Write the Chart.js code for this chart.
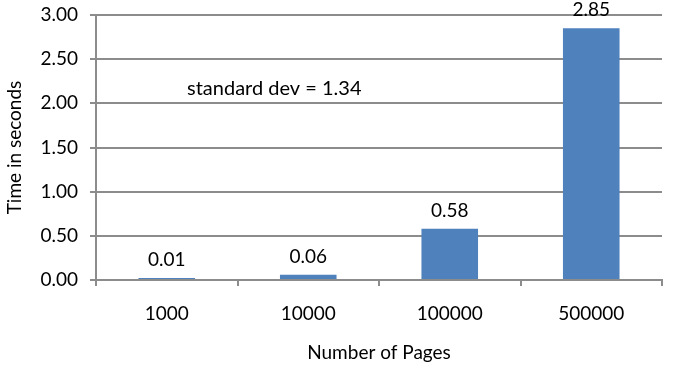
<!DOCTYPE html>
<html><head><meta charset="utf-8">
<script src="https://cdn.jsdelivr.net/npm/chart.js@4/dist/chart.umd.min.js"></script>
<style>html,body{margin:0;padding:0;background:#fff}canvas{display:block}</style>
</head><body><canvas id="c" width="684" height="374"></canvas>
<script>
const categories = ['1000', '10000', '100000', '500000'];
const times = [0.01, 0.06, 0.58, 2.85];
const yTickValues = [0, 0.5, 1, 1.5, 2, 2.5, 3];
const xTitle = 'Number of Pages';
const yTitle = 'Time in seconds';
const annotationText = 'standard dev = 1.34';
const annotationAt = [0.76, 2.17]; // [category index, value]

const FONT = 'Lato, "Liberation Sans", sans-serif';
const FS = 19;
const GRID = '#8c8c8c';

const labelsPlugin = {
  id: 'labels',
  afterDatasetsDraw(chart) {
    const ctx = chart.ctx;
    ctx.save();
    ctx.font = FS + 'px ' + FONT;
    ctx.fillStyle = '#000';
    ctx.textAlign = 'center';
    ctx.textBaseline = 'middle';
    const base = chart.scales.y.getPixelForValue(0);
    chart.getDatasetMeta(0).data.forEach((bar, i) => {
      const top = Math.min(bar.y, base - 2);
      ctx.fillText(times[i].toFixed(2), bar.x, top - 18);
    });
    const ax = chart.scales.x.getPixelForValue(annotationAt[0]);
    const ay = chart.scales.y.getPixelForValue(annotationAt[1]);
    ctx.font = '20px ' + FONT;
    ctx.fillText(annotationText, ax, ay);
    ctx.restore();
  }
};

new Chart(document.getElementById('c'), {
  type: 'bar',
  data: {
    labels: categories,
    datasets: [{
      data: times,
      backgroundColor: '#4F81BD',
      borderWidth: 0,
      minBarLength: 2,
      barPercentage: 0.4,
      categoryPercentage: 1.0
    }]
  },
  options: {
    responsive: false,
    animation: false,
    devicePixelRatio: 1,
    layout: { padding: { top: 15, right: 22, left: 0, bottom: 0 } },
    plugins: { legend: { display: false }, tooltip: { enabled: false } },
    scales: {
      x: {
        afterFit(s) { s.height = 94; s.paddingLeft = 0; s.paddingRight = 0; },
        grid: { drawOnChartArea: false, offset: true, color: GRID, lineWidth: 2, tickLength: 6 },
        border: { display: true, color: GRID, width: 2 },
        ticks: { color: '#000', font: { family: FONT, size: FS }, padding: 16, maxRotation: 0 },
        title: { display: true, text: xTitle, color: '#000', font: { family: FONT, size: FS }, padding: { top: 0, bottom: 10 } }
      },
      y: {
        min: 0, max: 3,
        afterFit(s) { s.width = 96; s.paddingTop = 0; s.paddingBottom = 0; },
        afterBuildTicks(s) { s.ticks = yTickValues.map(v => ({ value: v })); },
        grid: { color: GRID, lineWidth: 2, tickLength: 6 },
        border: { display: true, color: GRID, width: 2 },
        ticks: { color: '#000', font: { family: FONT, size: FS }, padding: 12, callback: v => Number(v).toFixed(2) },
        title: { display: true, text: yTitle, color: '#000', font: { family: FONT, size: FS }, padding: { top: 3, bottom: 0 } }
      }
    }
  },
  plugins: [labelsPlugin]
});
</script></body></html>
